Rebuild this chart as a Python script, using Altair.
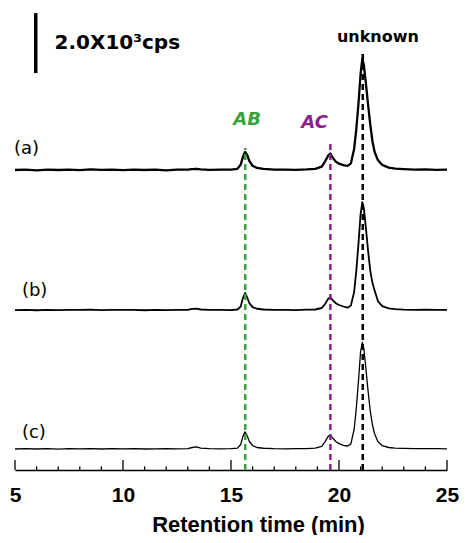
import altair as alt
import pandas as pd

# ---- data (retention time in min, intensity above baseline in cps)
times = [5.0, 5.5, 6.0, 6.5, 7.0, 7.5, 8.0, 8.5, 9.0, 9.5, 10.0, 10.5, 11.0, 11.5,
         12.0, 12.5, 13.0, 13.2, 13.4, 13.6, 14.0, 14.5, 15.0, 15.3, 15.45, 15.55,
         15.65, 15.75, 15.85, 16.0, 16.2, 16.5, 17.0, 17.5, 18.0, 18.5, 18.9, 19.2,
         19.35, 19.5, 19.6, 19.7, 19.85, 20.0, 20.2, 20.4, 20.55, 20.7, 20.8, 20.9,
         21.0, 21.08, 21.15, 21.25, 21.35, 21.45, 21.55, 21.65, 21.8, 22.0, 22.3,
         22.6, 23.0, 23.5, 24.0, 24.5, 25.0]

trace_a = [0, 15, -10, 10, 0, 15, -5, 20, 5, 10, -5, 15, 0, 10,
           -10, 15, 10, 30, 40, 20, 5, 15, 10, 40, 180, 430,
           600, 500, 300, 140, 70, 35, 10, 15, 5, 20, 40, 110,
           280, 480, 550, 420, 280, 210, 160, 140, 220, 700, 1350, 2200,
           3200, 3700, 3500, 2850, 2150, 1500, 950, 600, 330, 170, 80,
           45, 30, 15, 20, 5, 10]

trace_b = [0, 10, -5, 5, 0, 10, 5, 15, 0, 10, 5, 10, -5, 10,
           0, 5, 10, 40, 50, 20, 5, 10, 0, 20, 120, 400,
           570, 420, 230, 100, 45, 20, 5, 10, 0, 15, 20, 70,
           200, 380, 430, 340, 230, 170, 120, 80, 150, 600, 1300, 2200,
           3200, 3600, 3400, 2700, 1950, 1300, 900, 650, 300, 130, 60,
           30, 15, 10, 15, 5, 10]

trace_c = [0, 10, 0, 10, -5, 10, 5, 10, 0, 15, 5, 10, 0, 5,
           10, 5, 15, 50, 70, 30, 10, 5, 10, 30, 150, 420,
           570, 440, 250, 110, 50, 25, 10, 5, 10, 15, 30, 90,
           240, 420, 470, 370, 250, 180, 120, 100, 170, 650, 1350, 2250,
           3250, 3550, 3350, 2650, 1900, 1250, 800, 500, 250, 110, 50,
           30, 20, 10, 15, 10, 5]

trace_names = ["(a)", "(b)", "(c)"]
trace_offsets = [10000, 5330, 700]

marker_names = ["AB", "AC", "unknown"]
marker_times = [15.66, 19.6, 21.1]
marker_tops = [10733, 11000, 14000]
marker_colors = ["#3aa23a", "#8f1f8f", "#000000"]

tick_labels = [5, 10, 15, 20, 25]
minor_ticks = [6, 7, 8, 9, 11, 12, 13, 14, 16, 17, 18, 19, 21, 22, 23, 24]

# ---- tables
rows = []
for name, off, vals in zip(trace_names, trace_offsets, [trace_a, trace_b, trace_c]):
    for t, v in zip(times, vals):
        rows.append({"t": t, "y": v + off, "trace": name})
traces = pd.DataFrame(rows)

markers = pd.DataFrame({"name": marker_names, "t": marker_times,
                        "top": marker_tops, "bottom": [0, 0, 0]})

trace_label_df = pd.DataFrame({"label": trace_names,
                               "t": [4.95, 5.32, 5.32],
                               "y": [10700, 5970, 1230]})
peak_label_df = pd.DataFrame({"name": ["AB", "AC"], "t": [15.75, 18.87],
                              "y": [11670, 11570]})
unknown_df = pd.DataFrame({"name": ["unknown"], "t": [21.8], "y": [14430]})
major_df = pd.DataFrame({"t": tick_labels, "y0": [0] * 5, "y1": [330] * 5})
minor_df = pd.DataFrame({"t": minor_ticks, "y0": [0] * len(minor_ticks),
                         "y1": [120] * len(minor_ticks)})
bar_df = pd.DataFrame({"t": [5.96], "y0": [13230], "y1": [15230]})
bar_text_df = pd.DataFrame({"label": ["2.0X10³cps"], "t": [6.83], "y": [14230]})

xs = alt.Scale(domain=[5, 25], nice=False, zero=False)
ys = alt.Scale(domain=[0, 15400], nice=False, zero=False)
cs = alt.Scale(domain=marker_names, range=marker_colors)

x_axis = alt.Axis(values=tick_labels, ticks=False, grid=False, domainColor="black",
                  domainWidth=1.5, labelFont="Liberation Sans", labelFontSize=21,
                  labelFontWeight="bold", labelColor="black", labelPadding=14,
                  labelFlush=False, format="d",
                  title="Retention time (min)", titleFont="Liberation Sans",
                  titleFontSize=22, titleFontWeight="bold", titleColor="black",
                  titleX=243, titleY=61, titleBaseline="alphabetic",
                  titleAlign="center")


def X():
    return alt.X("t:Q", scale=xs, axis=x_axis, title="Retention time (min)")


def Y(field):
    return alt.Y(field, scale=ys, axis=None)


lines = alt.Chart(traces).mark_line(color="black", strokeJoin="round").encode(
    x=X(), y=Y("y:Q"),
    detail="trace:N",
    strokeWidth=alt.StrokeWidth("trace:N", scale=alt.Scale(domain=trace_names,
                                range=[2.3, 1.3, 1.3]), legend=None),
)

dashed = alt.Chart(markers).mark_rule(strokeDash=[6, 4], strokeWidth=2.5).encode(
    x=X(), y=Y("bottom:Q"), y2="top:Q",
    color=alt.Color("name:N", scale=cs, legend=None),
)

major = alt.Chart(major_df).mark_rule(color="black", strokeWidth=1.3).encode(
    x=X(), y=Y("y0:Q"), y2="y1:Q")
minor = alt.Chart(minor_df).mark_rule(color="black", strokeWidth=1.3).encode(
    x=X(), y=Y("y0:Q"), y2="y1:Q")

scale_bar = alt.Chart(bar_df).mark_rule(color="black", strokeWidth=3.5).encode(
    x=X(), y=Y("y0:Q"), y2="y1:Q")

bar_text = alt.Chart(bar_text_df).mark_text(
    align="left", baseline="middle", font="DejaVu Sans", fontSize=20,
    fontWeight="bold", color="black").encode(
    x=X(), y=Y("y:Q"), text="label:N")

trace_text = alt.Chart(trace_label_df).mark_text(
    align="left", baseline="middle", font="DejaVu Sans", fontSize=18,
    color="black").encode(
    x=X(), y=Y("y:Q"), text="label:N")

peak_text = alt.Chart(peak_label_df).mark_text(
    align="center", baseline="middle", font="DejaVu Sans", fontSize=18,
    fontWeight="bold", fontStyle="italic").encode(
    x=X(), y=Y("y:Q"), text="name:N",
    color=alt.Color("name:N", scale=cs, legend=None))

unknown_text = alt.Chart(unknown_df).mark_text(
    align="center", baseline="middle", font="DejaVu Sans", fontSize=16,
    fontWeight="bold").encode(
    x=X(), y=Y("y:Q"), text="name:N",
    color=alt.Color("name:N", scale=cs, legend=None))

chart = alt.layer(lines, dashed, major, minor, scale_bar, bar_text, trace_text,
                  peak_text, unknown_text).properties(
    width=432, height=462,
    autosize=alt.AutoSizeParams(type="none"),
    padding={"left": 7, "top": 0, "right": 12, "bottom": 65},
).configure_view(stroke=None)

chart.save("out.html", embed_options={"renderer": "svg", "actions": False})
